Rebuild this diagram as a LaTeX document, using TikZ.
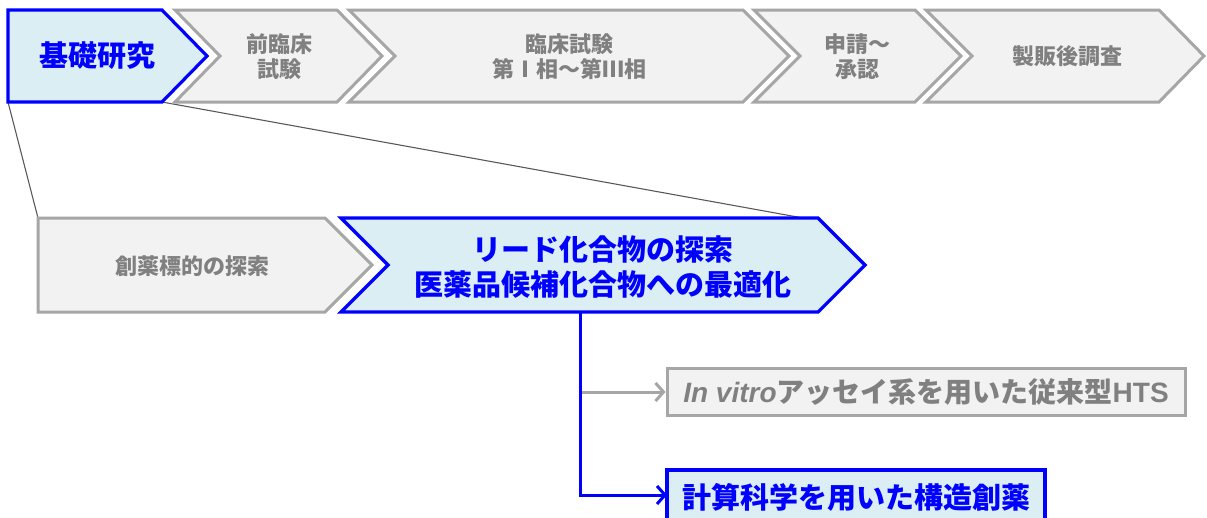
\documentclass[tikz,border=0pt]{standalone}
\usepackage{fontspec}
\setmainfont{Liberation Sans}
\newfontfamily\jp{Noto Sans CJK JP}
\usetikzlibrary{arrows.meta}
\definecolor{bfill}{HTML}{DAEEF3}
\definecolor{gfill}{HTML}{F2F2F2}
\definecolor{gline}{HTML}{A6A6A6}
\definecolor{gtext}{HTML}{808080}
\definecolor{bline}{HTML}{0000FF}
\definecolor{zline}{HTML}{595959}
\begin{document}
\begin{tikzpicture}[x=1pt,y=-1pt,
  blueshape/.style={draw=bline,fill=bfill,line width=3.2pt},
  grayshape/.style={draw=gline,fill=gfill,line width=3pt},
  bigtext/.style={text=bline,font=\jp\bfseries\fontsize{29}{35}\selectfont,align=center,inner sep=0pt},
  smalltext/.style={text=gtext,font=\jp\bfseries\fontsize{22}{25}\selectfont,align=center,inner sep=0pt},
  zoomline/.style={draw=zline,line width=1.1pt},
  bluearrow/.style={draw=bline,line width=3pt,-{Straight Barb[length=8pt,width=18pt]}},
  grayarrow/.style={draw=gline,line width=3pt,-{Straight Barb[length=8pt,width=18pt]}}]
\useasboundingbox (0,0) rectangle (1207,517);
\clip (0,0) rectangle (1207,517);
% zoom lines
\coordinate (s1bl) at (8,102);
\coordinate (s1br) at (162,102);
\coordinate (s6tl) at (38,218);
\coordinate (s7tr) at (803,218);
\draw[zoomline] (s1bl) -- (s6tl);
\draw[zoomline] (s1br) -- (s7tr);
% top row
\draw[grayshape] (926,10) -- (1159,10) -- (1204,56) -- (1159,102) -- (926,102) -- (972,56) -- cycle;
\draw[grayshape] (754,10) -- (915,10) -- (961,56) -- (915,102) -- (754,102) -- (800,56) -- cycle;
\draw[grayshape] (349,10) -- (743,10) -- (789,56) -- (743,102) -- (349,102) -- (395,56) -- cycle;
\draw[grayshape] (175,10) -- (337,10) -- (382,56) -- (337,102) -- (175,102) -- (220,56) -- cycle;
\draw[blueshape] (8,10) -- (162,10) -- (207,56) -- (162,102) -- (8,102) -- cycle;
\node[bigtext] (t1) at (97,56) {基礎研究};
\node[smalltext] (t2) at (279,57) {前臨床\\試験};
\node[smalltext] (t3) at (569,57) {臨床試験\\第Ⅰ相～第Ⅲ相};
\node[smalltext] (t4) at (857,57) {申請～\\承認};
\node[smalltext] (t5) at (1067,56) {製販後調査};
% second row
\draw[grayshape] (38,218) -- (325,218) -- (372,265) -- (325,312) -- (38,312) -- cycle;
\draw[blueshape] (341,218) -- (818,218) -- (865,265) -- (818,312) -- (341,312) -- (388,265) -- cycle;
\node[smalltext] (t6) at (192,266) {創薬標的の探索};
\node[bigtext] (t7) at (603,267) {リード化合物の探索\\医薬品候補化合物への最適化};
% boxes
\node[grayshape,minimum width=518,minimum height=47,inner sep=0pt,text=gtext,
  font=\bfseries\fontsize{28}{32}\selectfont] (hts) at (926,392)
  {{\itshape In vitro}{\jp アッセイ系を用いた従来型}HTS};
\node[blueshape,minimum width=378,minimum height=54,inner sep=0pt,text=bline,
  font=\jp\bfseries\fontsize{29}{35}\selectfont] (sbdd) at (856,497)
  {計算科学を用いた構造創薬};
% connectors
\coordinate (leadbot) at (580,312);
\coordinate (branch) at (581,392);
\coordinate (sbddin) at (667,495);
\draw[grayarrow] (branch) -- (hts.west);
\draw[bluearrow] (leadbot) |- (sbddin);
\end{tikzpicture}
\end{document}
